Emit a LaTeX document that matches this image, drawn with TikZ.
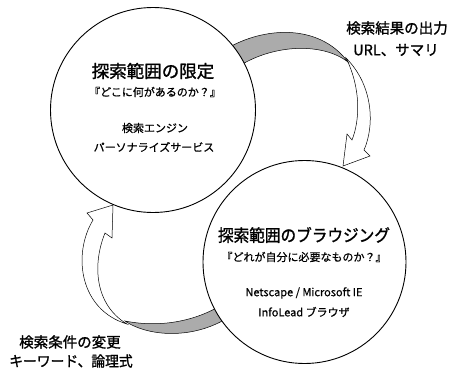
\documentclass[tikz,border=0pt]{standalone}
\usepackage{fontspec}
\setmainfont{Noto Sans CJK JP}
\newfontfamily\jpb{Noto Sans CJK JP}[FakeBold=1.2]
\newfontfamily\jpm{Noto Sans CJK JP}[FakeBold=0.6]
\begin{document}
\begin{tikzpicture}[x=1pt,y=-1pt,
  ring/.style={circle,draw=black,line width=0.9pt,fill=white,inner sep=0pt},
  band/.style={draw=black,line width=0.5pt,fill=black!33},
  shaft/.style={draw=black,line width=0.5pt,fill=white,line join=miter},
  ttl/.style={font=\jpb\fontsize{17}{17}\selectfont,inner sep=0pt},
  sub/.style={font=\jpm\fontsize{11}{11}\selectfont,inner sep=0pt},
  txt/.style={font=\jpm\fontsize{11}{11}\selectfont,inner sep=0pt},
  lbl/.style={font=\jpb\fontsize{14.5}{14.5}\selectfont,inner sep=0pt}]
\useasboundingbox (0,0) rectangle (461,370);
% top-right arrow (c1 -> c2)
\draw[shaft] (346,58) .. controls (373,85) and (375,125) .. (364,150)
  -- (370,156) -- (343,166) -- (347,134) -- (352,140)
  .. controls (360,120) and (361,88) .. (346,58) -- cycle;
\draw[band] (228,48) .. controls (262,28) and (318,22) .. (348,62)
  .. controls (322,42) and (272,44) .. (236,68) -- cycle;
% bottom-left arrow (c2 -> c1)
\draw[shaft] (127,324) .. controls (80,310) and (72,255) .. (93,220)
  -- (87,213) -- (113,205) -- (112,238) -- (105,233)
  .. controls (92,265) and (95,305) .. (127,324) -- cycle;
\draw[band] (125,321) .. controls (160,328) and (200,322) .. (232,298)
  -- (236,312) .. controls (200,340) and (150,338) .. (125,321) -- cycle;
% circles
\node[ring,minimum size=205pt] (c1) at (153,110) {};
\node[ring,minimum size=203pt] (c2) at (304.5,262) {};
% circle 1 texts
\node[ttl,font=\jpb\fontsize{17.5}{17.5}\selectfont] (t1) at (153,71) {探索範囲の限定};
\node[sub] (s1) at (155,92) {『どこに何があるのか？』};
\node[txt] (a1) at (155,128) {検索エンジン};
\node[txt] (b1) at (154,147) {パーソナライズサービス};
% circle 2 texts
\node[ttl] (t2) at (304,235) {\scalebox{0.92}[1]{探索範囲のブラウジング}};
\node[sub] (s2) at (304,257) {『どれが自分に必要なものか？』};
\node[txt] (a2) at (304,293) {Netscape / Microsoft IE};
\node[txt] (b2) at (304,312) {InfoLead ブラウザ};
% labels
\node[lbl] (l1) at (397,28) {検索結果の出力};
\node[lbl] (l2) at (396,50) {URL、サマリ};
\node[lbl] (l3) at (70,342) {検索条件の変更};
\node[lbl] (l4) at (71,361) {\scalebox{0.95}[1]{キーワード、論理式}};
\end{tikzpicture}
\end{document}
